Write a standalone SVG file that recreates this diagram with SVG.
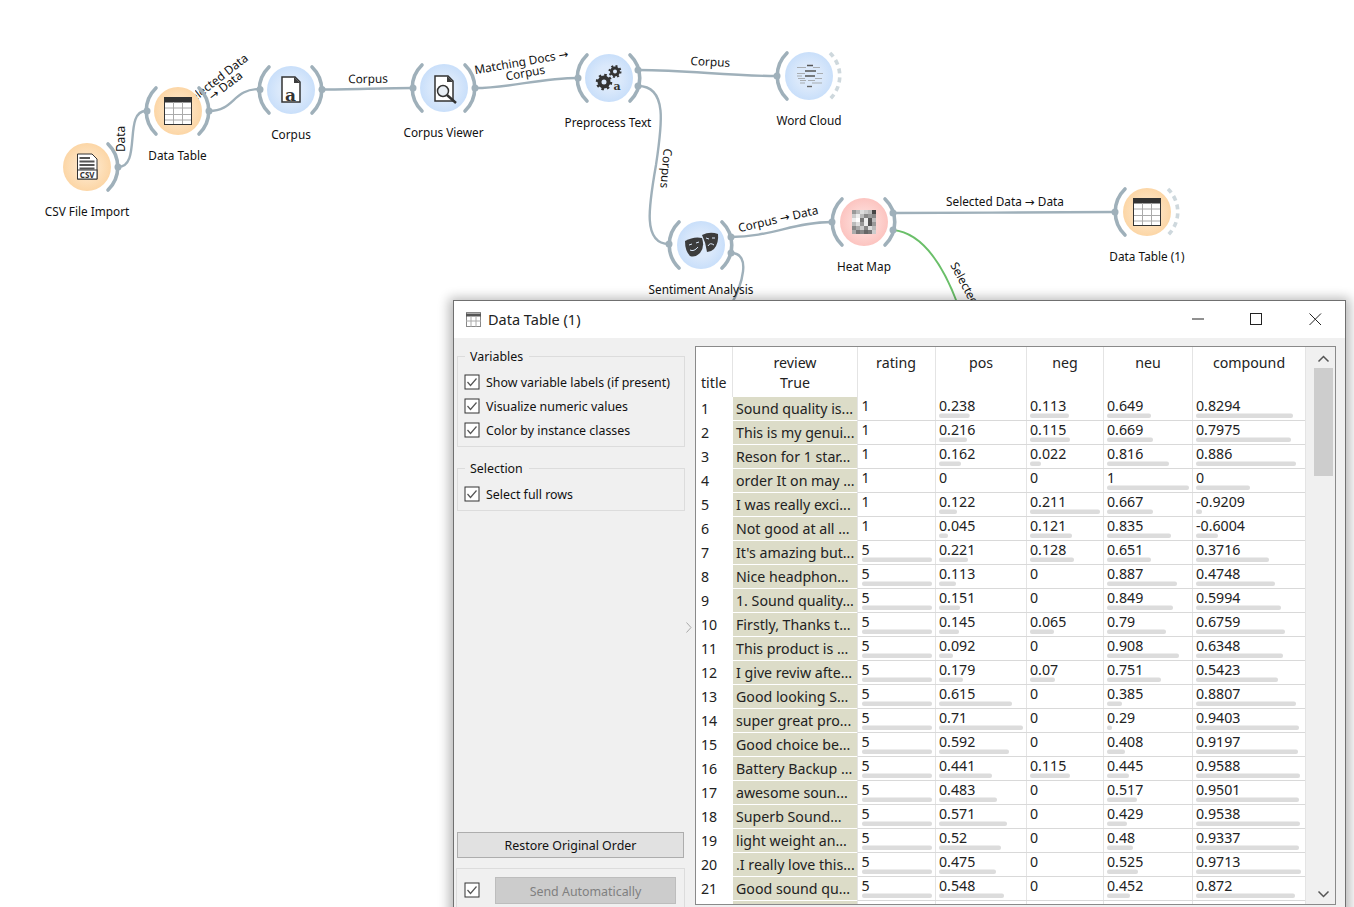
<svg xmlns="http://www.w3.org/2000/svg" width="1354" height="907" viewBox="0 0 1354 907">
<style>
text{font-family:"Noto Sans","Open Sans","DejaVu Sans",sans-serif;fill:#111}
.lb{font-size:11.800px;text-anchor:middle;fill:#111}
.el{font-size:11.800px;text-anchor:middle;fill:#111}
.c{fill:none;stroke:#9fb0ba;stroke-width:2.400}
.ch{fill:none;stroke:#9fb0ba;stroke-width:3.600;stroke-linecap:round}
.chd{fill:none;stroke:#ced8dd;stroke-width:3.600;stroke-dasharray:5 4}
.dot{fill:#9fb0ba}
.or{fill:url(#gOr)}
.bl{fill:url(#gBl)}
.rd{fill:url(#gRd)}
.ic{fill:#3c3c3c}
.p{font-size:12.400px}
.t{font-size:14.200px;fill:#222}
.h{font-size:14.200px;text-anchor:middle;fill:#222}
.n{font-size:14.200px;fill:#222}
.b{fill:#dcdcdc}
.rv{fill:#dcdcc8}
.sep{stroke:#d9d9d9;stroke-width:1}
.cb{fill:#fff;stroke:#333;stroke-width:1}
.ck{fill:none;stroke:#555;stroke-width:1.200}
.box{fill:none;stroke:#dcdcdc;stroke-width:1}
</style>
<defs>
<radialGradient id="gOr"><stop offset="0.5" stop-color="#fde2bf"/><stop offset="1" stop-color="#fcd6a6"/></radialGradient>
<radialGradient id="gBl"><stop offset="0.5" stop-color="#dbe9fb"/><stop offset="1" stop-color="#c9dffa"/></radialGradient>
<radialGradient id="gRd"><stop offset="0.5" stop-color="#fdd6d3"/><stop offset="1" stop-color="#fcc4c0"/></radialGradient>
<filter id="sh" x="-5%" y="-5%" width="110%" height="110%"><feGaussianBlur stdDeviation="6"/></filter>
<filter id="soft" x="-10%" y="-10%" width="120%" height="120%"><feGaussianBlur stdDeviation="0.450"/></filter>
<clipPath id="clipSel"><rect x="195" y="40" width="70" height="70"/></clipPath>
<g id="tbl"><rect x="-13.500" y="-13.500" width="27" height="27" fill="#fff" stroke="#333" stroke-width="1"/><rect x="-13.500" y="-13.500" width="27" height="5" fill="#333"/><path d="M-13 -3H13M-13 3.500H13M-13 9H13M-4.500 -9V13M4.500 -9V13" stroke="#aaa" stroke-width="1" fill="none"/></g>
<g id="cbx"><rect class="cb" x="0.500" y="0.500" width="14" height="14"/><path class="ck" d="M3 7.500L6 11L12 4"/></g>
</defs>

<g id="connectors">
<path class="c" d="M118 167C142 167 123 111 146 111"/>
<path class="c" d="M209 111C235 111 232 89 260 89"/>
<path class="c" d="M322 89.500C350 89.500 385 88 413 88"/>
<path class="c" d="M475 88C510 88 540 78 578 78"/>
<path class="c" d="M638 70C690 70 725 76 777 76"/>
<path class="c" d="M638 86C668 86 662 125 656 165C649 205 642 244 669 244"/>
<path class="c" d="M731 237C770 237 795 222 832 222"/>
<path class="c" d="M731 253C752 253 742 285 731 305"/>
<path class="c" d="M893 213C965 213 1045 212 1115 212"/>
<path fill="none" stroke="#6abf69" stroke-width="2" d="M893 230C925 233 945 270 958 305"/>
</g>
<g id="edge-labels">
<text class="el" transform="translate(125,139) rotate(-90)">Data</text>
<g clip-path="url(#clipSel)"><text class="el" transform="translate(219,83) rotate(-38)">Selected Data</text></g>
<text class="el" transform="translate(228,89) rotate(-38)">→ Data</text>
<text class="el" transform="translate(368,83) rotate(-1)">Corpus</text>
<text class="el" transform="translate(522,66) rotate(-10)">Matching Docs →</text>
<text class="el" transform="translate(526,77) rotate(-10)">Corpus</text>
<text class="el" transform="translate(710,66) rotate(3)">Corpus</text>
<text class="el" transform="translate(662,168) rotate(95)">Corpus</text>
<text class="el" transform="translate(779,223) rotate(-13)">Corpus → Data</text>
<text class="el" transform="translate(1005,206)">Selected Data → Data</text>
<text class="el" style="text-anchor:start" transform="translate(950,265) rotate(62)">Selected</text>
</g>

<g id="n-csv">
<circle class="or" cx="87" cy="167" r="24"/>
<path class="ch" d="M108 144A32 32 0 0 1 108 190"/><circle class="dot" cx="118" cy="167" r="3.500"/>
<path fill="#fff" stroke="#333" d="M77.500 154H92L97 159V179H77.500Z"/>
<path d="M79.500 158H90M79.500 161.500H94.500M79.500 165H94.500M79.500 168.500H94.500" stroke="#555" stroke-width="1.800"/>
<rect x="77.500" y="170" width="19.500" height="9" fill="#fff" stroke="#333"/>
<text x="87.200" y="178" style="font-size:8px;font-weight:700;text-anchor:middle;fill:#333">CSV</text>
<text class="lb" x="87" y="216">CSV File Import</text>
</g>
<g id="n-datatable">
<circle class="or" cx="178" cy="111" r="24"/>
<path class="ch" d="M156 88A32 32 0 0 0 156 134M199 88A32 32 0 0 1 199 134"/>
<circle class="dot" cx="147" cy="111" r="3.500"/><circle class="dot" cx="209" cy="111" r="3.500"/>
<use href="#tbl" x="178" y="111"/>
<text class="lb" x="177.500" y="160">Data Table</text>
</g>
<g id="n-corpus">
<circle class="bl" cx="291" cy="90" r="24"/>
<path class="ch" d="M269 67A32 32 0 0 0 269 113M312 67A32 32 0 0 1 312 113"/>
<circle class="dot" cx="260" cy="89.500" r="3.500"/><circle class="dot" cx="322" cy="89.500" r="3.500"/>
<path fill="#fff" stroke="#333" stroke-width="1.500" d="M282 77H295L300 82V102H282Z"/><path class="ic" d="M294 77L300 83H294Z"/>
<text x="290.500" y="101" style="font-size:17px;font-family:'DejaVu Serif',serif;font-weight:700;text-anchor:middle;fill:#333">a</text>
<text class="lb" x="291" y="139">Corpus</text>
</g>
<g id="n-corpusviewer">
<circle class="bl" cx="444" cy="88" r="24"/>
<path class="ch" d="M422 65A32 32 0 0 0 422 111M465 65A32 32 0 0 1 465 111"/>
<circle class="dot" cx="413" cy="88" r="3.500"/><circle class="dot" cx="475" cy="88" r="3.500"/>
<path fill="#fff" stroke="#333" stroke-width="1.500" d="M435 76H448L453 81V101H435Z"/><path class="ic" d="M447 76L453 82H447Z"/>
<circle cx="443" cy="91" r="5.500" fill="#e8eef5" stroke="#333" stroke-width="1.500"/><path d="M447 95L456 103" stroke="#333" stroke-width="2.500"/>
<text class="lb" x="443.500" y="137">Corpus Viewer</text>
</g>
<g id="n-preprocess">
<circle class="bl" cx="609" cy="78" r="24"/>
<path class="ch" d="M587 55A32 32 0 0 0 587 101M630 55A32 32 0 0 1 630 101"/>
<circle class="dot" cx="578" cy="78" r="3.500"/><circle class="dot" cx="638" cy="70" r="3.500"/><circle class="dot" cx="638" cy="86" r="3.500"/>
<circle cx="604" cy="82" r="4.500" fill="none" stroke="#333" stroke-width="4"/><circle cx="604" cy="82" r="7" fill="none" stroke="#333" stroke-width="2.500" stroke-dasharray="2.500 3"/>
<circle cx="615" cy="71.500" r="3.500" fill="none" stroke="#333" stroke-width="3"/><circle cx="615" cy="71.500" r="5.500" fill="none" stroke="#333" stroke-width="2" stroke-dasharray="2 2.300"/>
<text x="617" y="90" style="font-size:11px;font-family:'DejaVu Serif',serif;font-weight:700;text-anchor:middle;fill:#333">a</text>
<text class="lb" x="608" y="127">Preprocess Text</text>
</g>
<g id="n-wordcloud">
<circle class="bl" cx="809" cy="76" r="24"/>
<path class="ch" d="M787 53A32 32 0 0 0 787 99"/><path class="chd" d="M830 53A32 32 0 0 1 830 99"/>
<circle class="dot" cx="777" cy="76" r="3.500"/>
<path d="M807 65.500H813M805 71H816M805 76H815" stroke="#555" stroke-width="1.400"/>
<path d="M797 67.500H806M813 67.500H820M797 73.500H805M817 73.500H823M797 76H802M798 78.500H805M815 78.500H822M800 80.500H806M808 80.500H815M800 83H805M812 83H822" stroke="#a8adb2" stroke-width="1.200"/>
<path d="M807 86.500H812" stroke="#666" stroke-width="1.400"/>
<text class="lb" x="809" y="125">Word Cloud</text>
</g>
<g id="n-sentiment">
<circle class="bl" cx="701" cy="245" r="24"/>
<path class="ch" d="M679 222A32 32 0 0 0 679 268M722 222A32 32 0 0 1 722 268"/>
<circle class="dot" cx="669" cy="244" r="3.500"/><circle class="dot" cx="731" cy="237" r="3.500"/><circle class="dot" cx="731" cy="253" r="3.500"/>
<path class="ic" d="M702 235Q710 231 718 234Q719 243 714 249Q711 252 707 252Q706 243 702 235Z"/>
<path class="ic" d="M685 241Q694 236 702 238Q705 247 700 253Q695 258 690 256Q685 251 685 241Z"/>
<path d="M689 245L692 244M696 243L699 242M690 250Q694 252 698 247M706 238L709 239M712 238L715 238M708 246Q710 242 714 245" fill="none" stroke="#dbe9fb" stroke-width="1"/>
<text class="lb" x="701" y="294">Sentiment Analysis</text>
</g>
<g id="n-heatmap">
<circle class="rd" cx="864" cy="222" r="24"/>
<path class="ch" d="M842 199A32 32 0 0 0 842 245M885 199A32 32 0 0 1 885 245"/>
<circle class="dot" cx="832" cy="222" r="3.500"/><circle class="dot" cx="893" cy="213" r="3.500"/><circle class="dot" cx="893" cy="230" r="3.500"/>
<g filter="url(#soft)">
<rect x="852" y="210" width="4" height="4" fill="#999"/><rect x="856" y="210" width="4" height="4" fill="#bbb"/><rect x="860" y="210" width="4" height="4" fill="#ddd"/><rect x="864" y="210" width="4" height="4" fill="#ccc"/><rect x="868" y="210" width="4" height="4" fill="#bbb"/><rect x="872" y="210" width="4" height="4" fill="#444"/>
<rect x="852" y="214" width="4" height="4" fill="#ccc"/><rect x="856" y="214" width="4" height="4" fill="#eee"/><rect x="860" y="214" width="4" height="4" fill="#bbb"/><rect x="864" y="214" width="4" height="4" fill="#888"/><rect x="868" y="214" width="4" height="4" fill="#999"/><rect x="872" y="214" width="4" height="4" fill="#888"/>
<rect x="852" y="218" width="4" height="4" fill="#eee"/><rect x="856" y="218" width="4" height="4" fill="#fff"/><rect x="860" y="218" width="4" height="4" fill="#777"/><rect x="864" y="218" width="4" height="4" fill="#eee"/><rect x="868" y="218" width="4" height="4" fill="#555"/><rect x="872" y="218" width="4" height="4" fill="#bbb"/>
<rect x="852" y="222" width="4" height="4" fill="#bbb"/><rect x="856" y="222" width="4" height="4" fill="#ddd"/><rect x="860" y="222" width="4" height="4" fill="#999"/><rect x="864" y="222" width="4" height="4" fill="#eee"/><rect x="868" y="222" width="4" height="4" fill="#555"/><rect x="872" y="222" width="4" height="4" fill="#999"/>
<rect x="852" y="226" width="4" height="4" fill="#888"/><rect x="856" y="226" width="4" height="4" fill="#aaa"/><rect x="860" y="226" width="4" height="4" fill="#ccc"/><rect x="864" y="226" width="4" height="4" fill="#888"/><rect x="868" y="226" width="4" height="4" fill="#ddd"/><rect x="872" y="226" width="4" height="4" fill="#bbb"/>
<rect x="852" y="230" width="4" height="4" fill="#aaa"/><rect x="856" y="230" width="4" height="4" fill="#777"/><rect x="860" y="230" width="4" height="4" fill="#888"/><rect x="864" y="230" width="4" height="4" fill="#666"/><rect x="868" y="230" width="4" height="4" fill="#777"/><rect x="872" y="230" width="4" height="4" fill="#ccc"/>
</g>
<text class="lb" x="864" y="271">Heat Map</text>
</g>
<g id="n-datatable1">
<circle class="or" cx="1147" cy="212" r="24"/>
<path class="ch" d="M1125 189A32 32 0 0 0 1125 235"/><path class="chd" d="M1168 189A32 32 0 0 1 1168 235"/>
<circle class="dot" cx="1115" cy="212" r="3.500"/>
<use href="#tbl" x="1147" y="212"/>
<text class="lb" x="1147" y="261">Data Table (1)</text>
</g>

<rect x="449" y="298" width="901" height="640" fill="#000" opacity="0.28" filter="url(#sh)"/>
<g id="window">
<rect x="453.500" y="300.500" width="892" height="640" fill="#f0f0f0" stroke="#707070"/>
<rect x="454" y="301" width="891" height="37" fill="#fff"/>
<g fill="none" stroke="#555"><rect x="466.500" y="312.500" width="14" height="14" fill="#fff" stroke="#888"/><path d="M466 315H481" stroke="#555" stroke-width="3"/><path d="M471 317V327M476 317V327M466 321H481" stroke="#aaa"/></g>
<text x="488" y="325" style="font-size:14.500px;fill:#222">Data Table (1)</text>
<path d="M1192 319H1204M1309.500 313.500L1321 325M1321 313.500L1309.500 325" stroke="#222" fill="none"/>
<rect x="1250.500" y="313.500" width="11" height="11" fill="none" stroke="#222"/>

<rect class="box" x="457.500" y="356.500" width="227" height="90"/>
<rect x="465" y="350" width="64" height="14" fill="#f0f0f0"/>
<text class="p" x="470" y="361">Variables</text>
<use href="#cbx" x="464.500" y="374.500"/><text class="p" x="486" y="387">Show variable labels (if present)</text>
<use href="#cbx" x="464.500" y="398.500"/><text class="p" x="486" y="411">Visualize numeric values</text>
<use href="#cbx" x="464.500" y="422.500"/><text class="p" x="486" y="435">Color by instance classes</text>
<rect class="box" x="457.500" y="468.500" width="227" height="42"/>
<rect x="465" y="462" width="64" height="14" fill="#f0f0f0"/>
<text class="p" x="470" y="473">Selection</text>
<use href="#cbx" x="464.500" y="486.500"/><text class="p" x="486" y="499">Select full rows</text>
<rect x="457.500" y="832.500" width="226" height="25" fill="#e1e1e1" stroke="#adadad"/>
<text class="p" x="570.500" y="850" text-anchor="middle">Restore Original Order</text>
<rect class="box" x="456.500" y="868.500" width="228" height="50"/>
<use href="#cbx" x="464.500" y="882.500"/>
<rect x="495.500" y="877.500" width="180" height="26" fill="#ccc" stroke="#bdbdbd"/>
<text class="p" x="585.500" y="896" text-anchor="middle" style="fill:#808080">Send Automatically</text>
<path d="M686.500 622.500L691 627.500L686.500 632.500" fill="none" stroke="#aaa"/>

<rect x="695.500" y="346.500" width="640" height="580" fill="#fff" stroke="#8a8a8a"/>
<rect x="1306" y="347" width="29" height="558" fill="#f0f0f0"/>
<rect x="1314" y="368" width="19" height="108" fill="#cdcdcd"/>
<path d="M1318.500 361.500L1323.500 356.500L1328.500 361.500M1318.500 891.500L1323.500 896.500L1328.500 891.500" fill="none" stroke="#555" stroke-width="1.500"/>
<path d="M732.500 347V397M857.500 347V905M935.500 347V905M1026.500 347V905M1103.500 347V905M1192.500 347V905M1305.500 347V905" stroke="#e4e4e4"/>
<text class="h" x="795" y="368">review</text><text class="h" x="795" y="388">True</text>
<text class="t" x="701" y="388">title</text>
<text class="h" x="896" y="368">rating</text><text class="h" x="981" y="368">pos</text><text class="h" x="1065" y="368">neg</text><text class="h" x="1148" y="368">neu</text><text class="h" x="1249" y="368">compound</text>

<g id="rows">
<g transform="translate(0,397)"><rect class="rv" x="733" width="124" height="23"/><path class="sep" d="M858 23.500H1305"/><text class="t" x="701" y="17">1</text><text class="t" x="736" y="17">Sound quality is...</text><text class="n" x="861.500" y="14">1</text><text class="n" x="939" y="14">0.238</text><text class="n" x="1030" y="14">0.113</text><text class="n" x="1107" y="14">0.649</text><text class="n" x="1196" y="14">0.8294</text><rect class="b" x="939" y="16.500" width="30.700" height="4.500" rx="2"/><rect class="b" x="1030" y="16.500" width="39" height="4.500" rx="2"/><rect class="b" x="1107" y="16.500" width="44" height="4.500" rx="2"/><rect class="b" x="1196" y="16.500" width="97" height="4.500" rx="2"/></g>
<g transform="translate(0,421)"><rect class="rv" x="733" width="124" height="23"/><path class="sep" d="M858 23.500H1305"/><text class="t" x="701" y="17">2</text><text class="t" x="736" y="17">This is my genui...</text><text class="n" x="861.500" y="14">1</text><text class="n" x="939" y="14">0.216</text><text class="n" x="1030" y="14">0.115</text><text class="n" x="1107" y="14">0.669</text><text class="n" x="1196" y="14">0.7975</text><rect class="b" x="939" y="16.500" width="28" height="4.500" rx="2"/><rect class="b" x="1030" y="16.500" width="40" height="4.500" rx="2"/><rect class="b" x="1107" y="16.500" width="46" height="4.500" rx="2"/><rect class="b" x="1196" y="16.500" width="95" height="4.500" rx="2"/></g>
<g transform="translate(0,445)"><rect class="rv" x="733" width="124" height="23"/><path class="sep" d="M858 23.500H1305"/><text class="t" x="701" y="17">3</text><text class="t" x="736" y="17">Reson for 1 star...</text><text class="n" x="861.500" y="14">1</text><text class="n" x="939" y="14">0.162</text><text class="n" x="1030" y="14">0.022</text><text class="n" x="1107" y="14">0.816</text><text class="n" x="1196" y="14">0.886</text><rect class="b" x="939" y="16.500" width="22" height="4.500" rx="2"/><rect class="b" x="1030" y="16.500" width="11" height="4.500" rx="2"/><rect class="b" x="1107" y="16.500" width="62" height="4.500" rx="2"/><rect class="b" x="1196" y="16.500" width="100" height="4.500" rx="2"/></g>
<g transform="translate(0,469)"><rect class="rv" x="733" width="124" height="23"/><path class="sep" d="M858 23.500H1305"/><text class="t" x="701" y="17">4</text><text class="t" x="736" y="17">order It on may ...</text><text class="n" x="861.500" y="14">1</text><text class="n" x="939" y="14">0</text><text class="n" x="1030" y="14">0</text><text class="n" x="1107" y="14">1</text><text class="n" x="1196" y="14">0</text><rect class="b" x="1107" y="16.500" width="82" height="4.500" rx="2"/><rect class="b" x="1196" y="16.500" width="54" height="4.500" rx="2"/></g>
<g transform="translate(0,493)"><rect class="rv" x="733" width="124" height="23"/><path class="sep" d="M858 23.500H1305"/><text class="t" x="701" y="17">5</text><text class="t" x="736" y="17">I was really exci...</text><text class="n" x="861.500" y="14">1</text><text class="n" x="939" y="14">0.122</text><text class="n" x="1030" y="14">0.211</text><text class="n" x="1107" y="14">0.667</text><text class="n" x="1196" y="14">-0.9209</text><rect class="b" x="939" y="16.500" width="18" height="4.500" rx="2"/><rect class="b" x="1030" y="16.500" width="70" height="4.500" rx="2"/><rect class="b" x="1107" y="16.500" width="46" height="4.500" rx="2"/><rect class="b" x="1196" y="16.500" width="6" height="4.500" rx="2"/></g>
<g transform="translate(0,517)"><rect class="rv" x="733" width="124" height="23"/><path class="sep" d="M858 23.500H1305"/><text class="t" x="701" y="17">6</text><text class="t" x="736" y="17">Not good at all ...</text><text class="n" x="861.500" y="14">1</text><text class="n" x="939" y="14">0.045</text><text class="n" x="1030" y="14">0.121</text><text class="n" x="1107" y="14">0.835</text><text class="n" x="1196" y="14">-0.6004</text><rect class="b" x="939" y="16.500" width="9" height="4.500" rx="2"/><rect class="b" x="1030" y="16.500" width="42" height="4.500" rx="2"/><rect class="b" x="1107" y="16.500" width="64" height="4.500" rx="2"/><rect class="b" x="1196" y="16.500" width="22" height="4.500" rx="2"/></g>
<g transform="translate(0,541)"><rect class="rv" x="733" width="124" height="23"/><path class="sep" d="M858 23.500H1305"/><text class="t" x="701" y="17">7</text><text class="t" x="736" y="17">It's amazing but...</text><text class="n" x="861.500" y="14">5</text><text class="n" x="939" y="14">0.221</text><text class="n" x="1030" y="14">0.128</text><text class="n" x="1107" y="14">0.651</text><text class="n" x="1196" y="14">0.3716</text><rect class="b" x="862" y="16.500" width="70" height="4.500" rx="2"/><rect class="b" x="939" y="16.500" width="29" height="4.500" rx="2"/><rect class="b" x="1030" y="16.500" width="44" height="4.500" rx="2"/><rect class="b" x="1107" y="16.500" width="44" height="4.500" rx="2"/><rect class="b" x="1196" y="16.500" width="73" height="4.500" rx="2"/></g>
<g transform="translate(0,565)"><rect class="rv" x="733" width="124" height="23"/><path class="sep" d="M858 23.500H1305"/><text class="t" x="701" y="17">8</text><text class="t" x="736" y="17">Nice headphon...</text><text class="n" x="861.500" y="14">5</text><text class="n" x="939" y="14">0.113</text><text class="n" x="1030" y="14">0</text><text class="n" x="1107" y="14">0.887</text><text class="n" x="1196" y="14">0.4748</text><rect class="b" x="862" y="16.500" width="70" height="4.500" rx="2"/><rect class="b" x="939" y="16.500" width="17" height="4.500" rx="2"/><rect class="b" x="1107" y="16.500" width="70" height="4.500" rx="2"/><rect class="b" x="1196" y="16.500" width="79" height="4.500" rx="2"/></g>
<g transform="translate(0,589)"><rect class="rv" x="733" width="124" height="23"/><path class="sep" d="M858 23.500H1305"/><text class="t" x="701" y="17">9</text><text class="t" x="736" y="17">1. Sound quality...</text><text class="n" x="861.500" y="14">5</text><text class="n" x="939" y="14">0.151</text><text class="n" x="1030" y="14">0</text><text class="n" x="1107" y="14">0.849</text><text class="n" x="1196" y="14">0.5994</text><rect class="b" x="862" y="16.500" width="70" height="4.500" rx="2"/><rect class="b" x="939" y="16.500" width="21" height="4.500" rx="2"/><rect class="b" x="1107" y="16.500" width="66" height="4.500" rx="2"/><rect class="b" x="1196" y="16.500" width="85" height="4.500" rx="2"/></g>
<g transform="translate(0,613)"><rect class="rv" x="733" width="124" height="23"/><path class="sep" d="M858 23.500H1305"/><text class="t" x="701" y="17">10</text><text class="t" x="736" y="17">Firstly, Thanks t...</text><text class="n" x="861.500" y="14">5</text><text class="n" x="939" y="14">0.145</text><text class="n" x="1030" y="14">0.065</text><text class="n" x="1107" y="14">0.79</text><text class="n" x="1196" y="14">0.6759</text><rect class="b" x="862" y="16.500" width="70" height="4.500" rx="2"/><rect class="b" x="939" y="16.500" width="20" height="4.500" rx="2"/><rect class="b" x="1030" y="16.500" width="24" height="4.500" rx="2"/><rect class="b" x="1107" y="16.500" width="59" height="4.500" rx="2"/><rect class="b" x="1196" y="16.500" width="89" height="4.500" rx="2"/></g>
<g transform="translate(0,637)"><rect class="rv" x="733" width="124" height="23"/><path class="sep" d="M858 23.500H1305"/><text class="t" x="701" y="17">11</text><text class="t" x="736" y="17">This product is ...</text><text class="n" x="861.500" y="14">5</text><text class="n" x="939" y="14">0.092</text><text class="n" x="1030" y="14">0</text><text class="n" x="1107" y="14">0.908</text><text class="n" x="1196" y="14">0.6348</text><rect class="b" x="862" y="16.500" width="70" height="4.500" rx="2"/><rect class="b" x="939" y="16.500" width="14" height="4.500" rx="2"/><rect class="b" x="1107" y="16.500" width="72" height="4.500" rx="2"/><rect class="b" x="1196" y="16.500" width="87" height="4.500" rx="2"/></g>
<g transform="translate(0,661)"><rect class="rv" x="733" width="124" height="23"/><path class="sep" d="M858 23.500H1305"/><text class="t" x="701" y="17">12</text><text class="t" x="736" y="17">I give reviw afte...</text><text class="n" x="861.500" y="14">5</text><text class="n" x="939" y="14">0.179</text><text class="n" x="1030" y="14">0.07</text><text class="n" x="1107" y="14">0.751</text><text class="n" x="1196" y="14">0.5423</text><rect class="b" x="862" y="16.500" width="70" height="4.500" rx="2"/><rect class="b" x="939" y="16.500" width="24" height="4.500" rx="2"/><rect class="b" x="1030" y="16.500" width="25" height="4.500" rx="2"/><rect class="b" x="1107" y="16.500" width="54" height="4.500" rx="2"/><rect class="b" x="1196" y="16.500" width="82" height="4.500" rx="2"/></g>
<g transform="translate(0,685)"><rect class="rv" x="733" width="124" height="23"/><path class="sep" d="M858 23.500H1305"/><text class="t" x="701" y="17">13</text><text class="t" x="736" y="17">Good looking S...</text><text class="n" x="861.500" y="14">5</text><text class="n" x="939" y="14">0.615</text><text class="n" x="1030" y="14">0</text><text class="n" x="1107" y="14">0.385</text><text class="n" x="1196" y="14">0.8807</text><rect class="b" x="862" y="16.500" width="70" height="4.500" rx="2"/><rect class="b" x="939" y="16.500" width="73" height="4.500" rx="2"/><rect class="b" x="1107" y="16.500" width="15" height="4.500" rx="2"/><rect class="b" x="1196" y="16.500" width="100" height="4.500" rx="2"/></g>
<g transform="translate(0,709)"><rect class="rv" x="733" width="124" height="23"/><path class="sep" d="M858 23.500H1305"/><text class="t" x="701" y="17">14</text><text class="t" x="736" y="17">super great pro...</text><text class="n" x="861.500" y="14">5</text><text class="n" x="939" y="14">0.71</text><text class="n" x="1030" y="14">0</text><text class="n" x="1107" y="14">0.29</text><text class="n" x="1196" y="14">0.9403</text><rect class="b" x="862" y="16.500" width="70" height="4.500" rx="2"/><rect class="b" x="939" y="16.500" width="84" height="4.500" rx="2"/><rect class="b" x="1107" y="16.500" width="5" height="4.500" rx="2"/><rect class="b" x="1196" y="16.500" width="103" height="4.500" rx="2"/></g>
<g transform="translate(0,733)"><rect class="rv" x="733" width="124" height="23"/><path class="sep" d="M858 23.500H1305"/><text class="t" x="701" y="17">15</text><text class="t" x="736" y="17">Good choice be...</text><text class="n" x="861.500" y="14">5</text><text class="n" x="939" y="14">0.592</text><text class="n" x="1030" y="14">0</text><text class="n" x="1107" y="14">0.408</text><text class="n" x="1196" y="14">0.9197</text><rect class="b" x="862" y="16.500" width="70" height="4.500" rx="2"/><rect class="b" x="939" y="16.500" width="70" height="4.500" rx="2"/><rect class="b" x="1107" y="16.500" width="18" height="4.500" rx="2"/><rect class="b" x="1196" y="16.500" width="102" height="4.500" rx="2"/></g>
<g transform="translate(0,757)"><rect class="rv" x="733" width="124" height="23"/><path class="sep" d="M858 23.500H1305"/><text class="t" x="701" y="17">16</text><text class="t" x="736" y="17">Battery Backup ...</text><text class="n" x="861.500" y="14">5</text><text class="n" x="939" y="14">0.441</text><text class="n" x="1030" y="14">0.115</text><text class="n" x="1107" y="14">0.445</text><text class="n" x="1196" y="14">0.9588</text><rect class="b" x="862" y="16.500" width="70" height="4.500" rx="2"/><rect class="b" x="939" y="16.500" width="53" height="4.500" rx="2"/><rect class="b" x="1030" y="16.500" width="40" height="4.500" rx="2"/><rect class="b" x="1107" y="16.500" width="22" height="4.500" rx="2"/><rect class="b" x="1196" y="16.500" width="104" height="4.500" rx="2"/></g>
<g transform="translate(0,781)"><rect class="rv" x="733" width="124" height="23"/><path class="sep" d="M858 23.500H1305"/><text class="t" x="701" y="17">17</text><text class="t" x="736" y="17">awesome soun...</text><text class="n" x="861.500" y="14">5</text><text class="n" x="939" y="14">0.483</text><text class="n" x="1030" y="14">0</text><text class="n" x="1107" y="14">0.517</text><text class="n" x="1196" y="14">0.9501</text><rect class="b" x="862" y="16.500" width="70" height="4.500" rx="2"/><rect class="b" x="939" y="16.500" width="58" height="4.500" rx="2"/><rect class="b" x="1107" y="16.500" width="30" height="4.500" rx="2"/><rect class="b" x="1196" y="16.500" width="103" height="4.500" rx="2"/></g>
<g transform="translate(0,805)"><rect class="rv" x="733" width="124" height="23"/><path class="sep" d="M858 23.500H1305"/><text class="t" x="701" y="17">18</text><text class="t" x="736" y="17">Superb Sound...</text><text class="n" x="861.500" y="14">5</text><text class="n" x="939" y="14">0.571</text><text class="n" x="1030" y="14">0</text><text class="n" x="1107" y="14">0.429</text><text class="n" x="1196" y="14">0.9538</text><rect class="b" x="862" y="16.500" width="70" height="4.500" rx="2"/><rect class="b" x="939" y="16.500" width="68" height="4.500" rx="2"/><rect class="b" x="1107" y="16.500" width="20" height="4.500" rx="2"/><rect class="b" x="1196" y="16.500" width="104" height="4.500" rx="2"/></g>
<g transform="translate(0,829)"><rect class="rv" x="733" width="124" height="23"/><path class="sep" d="M858 23.500H1305"/><text class="t" x="701" y="17">19</text><text class="t" x="736" y="17">light weight an...</text><text class="n" x="861.500" y="14">5</text><text class="n" x="939" y="14">0.52</text><text class="n" x="1030" y="14">0</text><text class="n" x="1107" y="14">0.48</text><text class="n" x="1196" y="14">0.9337</text><rect class="b" x="862" y="16.500" width="70" height="4.500" rx="2"/><rect class="b" x="939" y="16.500" width="62" height="4.500" rx="2"/><rect class="b" x="1107" y="16.500" width="26" height="4.500" rx="2"/><rect class="b" x="1196" y="16.500" width="103" height="4.500" rx="2"/></g>
<g transform="translate(0,853)"><rect class="rv" x="733" width="124" height="23"/><path class="sep" d="M858 23.500H1305"/><text class="t" x="701" y="17">20</text><text class="t" x="736" y="17">.I really love this...</text><text class="n" x="861.500" y="14">5</text><text class="n" x="939" y="14">0.475</text><text class="n" x="1030" y="14">0</text><text class="n" x="1107" y="14">0.525</text><text class="n" x="1196" y="14">0.9713</text><rect class="b" x="862" y="16.500" width="70" height="4.500" rx="2"/><rect class="b" x="939" y="16.500" width="57" height="4.500" rx="2"/><rect class="b" x="1107" y="16.500" width="31" height="4.500" rx="2"/><rect class="b" x="1196" y="16.500" width="105" height="4.500" rx="2"/></g>
<g transform="translate(0,877)"><rect class="rv" x="733" width="124" height="23"/><path class="sep" d="M858 23.500H1305"/><text class="t" x="701" y="17">21</text><text class="t" x="736" y="17">Good sound qu...</text><text class="n" x="861.500" y="14">5</text><text class="n" x="939" y="14">0.548</text><text class="n" x="1030" y="14">0</text><text class="n" x="1107" y="14">0.452</text><text class="n" x="1196" y="14">0.872</text><rect class="b" x="862" y="16.500" width="70" height="4.500" rx="2"/><rect class="b" x="939" y="16.500" width="65" height="4.500" rx="2"/><rect class="b" x="1107" y="16.500" width="23" height="4.500" rx="2"/><rect class="b" x="1196" y="16.500" width="99" height="4.500" rx="2"/></g>
<rect class="rv" x="733" y="901" width="124" height="3"/>
</g>
<rect x="695" y="905" width="641" height="2" fill="#f0f0f0"/>
<path d="M695 904.500H1336" stroke="#8a8a8a"/>
</g>
</svg>
